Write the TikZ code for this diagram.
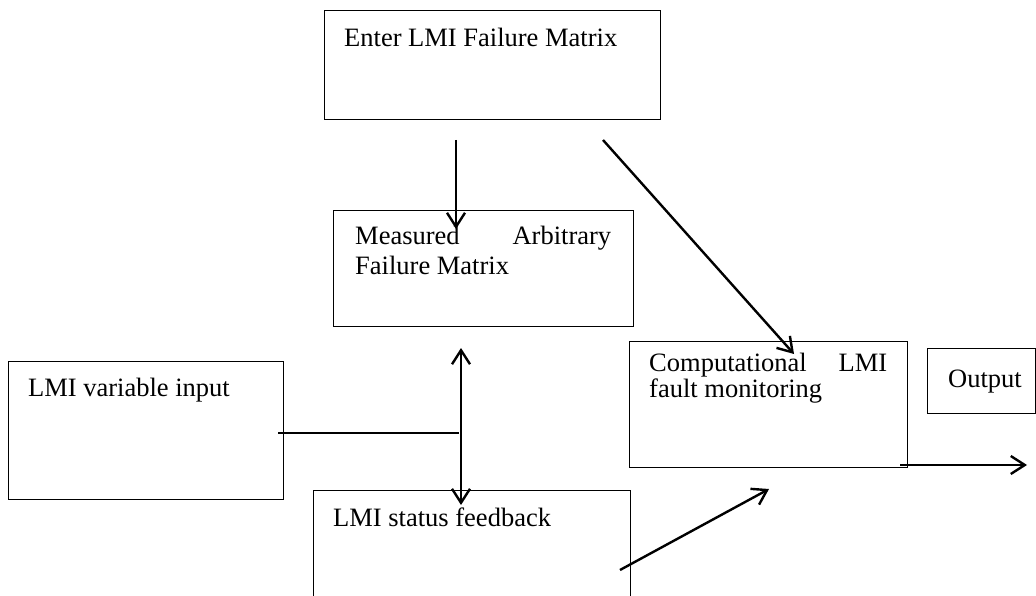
\documentclass[tikz,border=0pt]{standalone}
\usepackage{fontspec}
\setmainfont{Liberation Serif}
\usetikzlibrary{arrows.meta}
\begin{document}
\begin{tikzpicture}[x=1pt,y=-1pt,
  box/.style={draw=black, line width=1.2pt, inner sep=0pt, anchor=north west},
  txt/.style={inner sep=0pt, anchor=base west, align=left, font=\fontsize{26.5}{30}\selectfont},
  arr/.style={line width=2.4pt, -{Straight Barb[length=14pt,width=18pt,line width=2.4pt]}},
  darr/.style={line width=2.4pt, {Straight Barb[length=14pt,width=18pt,line width=2.4pt]}-{Straight Barb[length=14pt,width=18pt,line width=2.4pt]}},
  link/.style={line width=1.2pt}]
\useasboundingbox (0,0) rectangle (1036,596);
\clip (0,0) rectangle (1036,596);
% boxes
\node[box, minimum width=336pt, minimum height=109pt] (enter) at (324,10) {};
\node[box, minimum width=300pt, minimum height=116pt] (meas) at (333,210) {};
\node[box, minimum width=275pt, minimum height=138pt] (var) at (8,361) {};
\node[box, minimum width=317pt, minimum height=130pt] (stat) at (313,490) {};
\node[box, minimum width=278pt, minimum height=126pt] (comp) at (629,341) {};
\node[box, minimum width=108pt, minimum height=65pt] (out) at (927,348) {};
% texts
\node[txt] (tenter) at (344,47) {Enter LMI Failure Matrix};
\node[txt] (tmeas) at (355,274) {\hbox to 256pt{Measured\hfill Arbitrary}\\Failure Matrix};
\node[txt] (tvar) at (28,396) {LMI variable input};
\node[txt] (tstat) at (333,526) {LMI status feedback};
\node[txt, font=\fontsize{26.5}{23}\selectfont] (tcomp) at (649,397) {\hbox to 238pt{Computational\hfill LMI}\\fault monitoring};
\node[txt] (tout) at (948,387) {Output};
% connector end points
\coordinate (a1s) at (456,140);
\coordinate (a1e) at (456,229);
\coordinate (a2s) at (603,140);
\coordinate (a2e) at (794,354);
\coordinate (a3s) at (461,348);
\coordinate (a3e) at (461,505);
\coordinate (l4s) at (278,433);
\coordinate (l4e) at (459,433);
\coordinate (a5s) at (620,570);
\coordinate (a5e) at (769,489);
\coordinate (a6s) at (900,465);
\coordinate (a6e) at (1027,465);
% connectors
\draw[arr] (a1s) -- (a1e);
\draw[arr] (a2s) -- (a2e);
\draw[darr] (a3s) -- (a3e);
\draw[link] (l4s) -- (l4e);
\draw[arr] (a5s) -- (a5e);
\draw[arr] (a6s) -- (a6e);
\end{tikzpicture}
\end{document}
